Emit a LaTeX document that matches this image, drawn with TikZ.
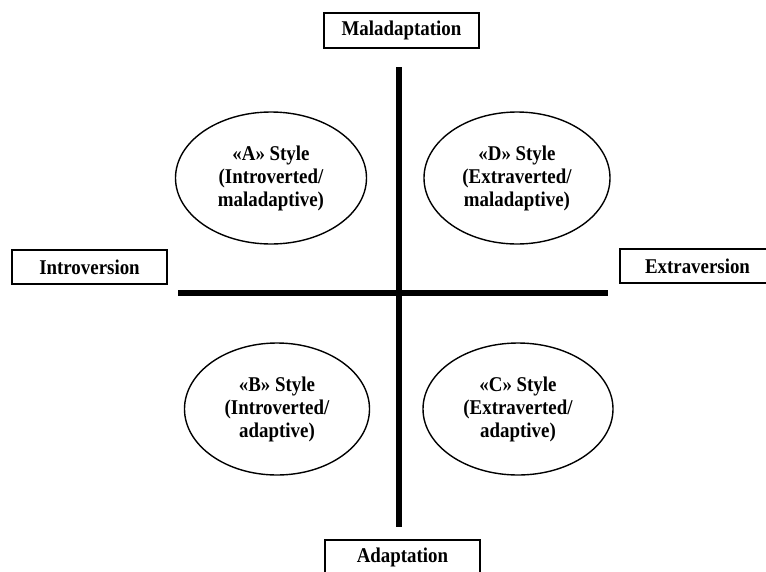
\documentclass[tikz,border=0pt]{standalone}
\usepackage{fontspec}
\setmainfont{Liberation Serif}[FakeStretch=0.9]
\usetikzlibrary{shapes.geometric}

\begin{document}
\begin{tikzpicture}[x=1pt,y=-1pt]
\tikzset{every node/.style={font=\fontsize{21}{23}\selectfont\bfseries,align=center}}
\tikzset{polebox/.style={draw,line width=1.4pt,minimum width=155pt,minimum height=35pt,inner sep=0pt}}
\tikzset{stylebox/.style={draw,ellipse,line width=1.4pt,minimum height=132pt,inner sep=0pt}}
\tikzset{axisline/.style={line width=6pt}}
\clip (0,0) rectangle (766,571);
\useasboundingbox (0,0) rectangle (766,571);
\node[polebox] (mal) at (401.5,30.5) {Maladaptation};
\node[polebox] (adapt) at (402.5,557.5) {Adaptation};
\node[polebox,minimum height=34pt] (intro) at (89.5,267) {Introversion};
\node[polebox,minimum height=34pt] (extra) at (697.5,266) {Extraversion};
\node[stylebox,minimum width=191pt] (sa) at (271,178) {«A» Style\\(Introverted/\\maladaptive)};
\node[stylebox,minimum width=186pt] (sd) at (517,178) {«D» Style\\(Extraverted/\\maladaptive)};
\node[stylebox,minimum width=185pt] (sb) at (277,409) {«B» Style\\(Introverted/\\adaptive)};
\node[stylebox,minimum width=190pt] (sc) at (518,409) {«C» Style\\(Extraverted/\\adaptive)};
\coordinate (top) at (399,67);
\coordinate (bottom) at (399,527);
\coordinate (left) at (178,293);
\coordinate (right) at (608,293);
\draw[axisline] (top) -- (bottom);
\draw[axisline] (left) -- (right);
\end{tikzpicture}
\end{document}
